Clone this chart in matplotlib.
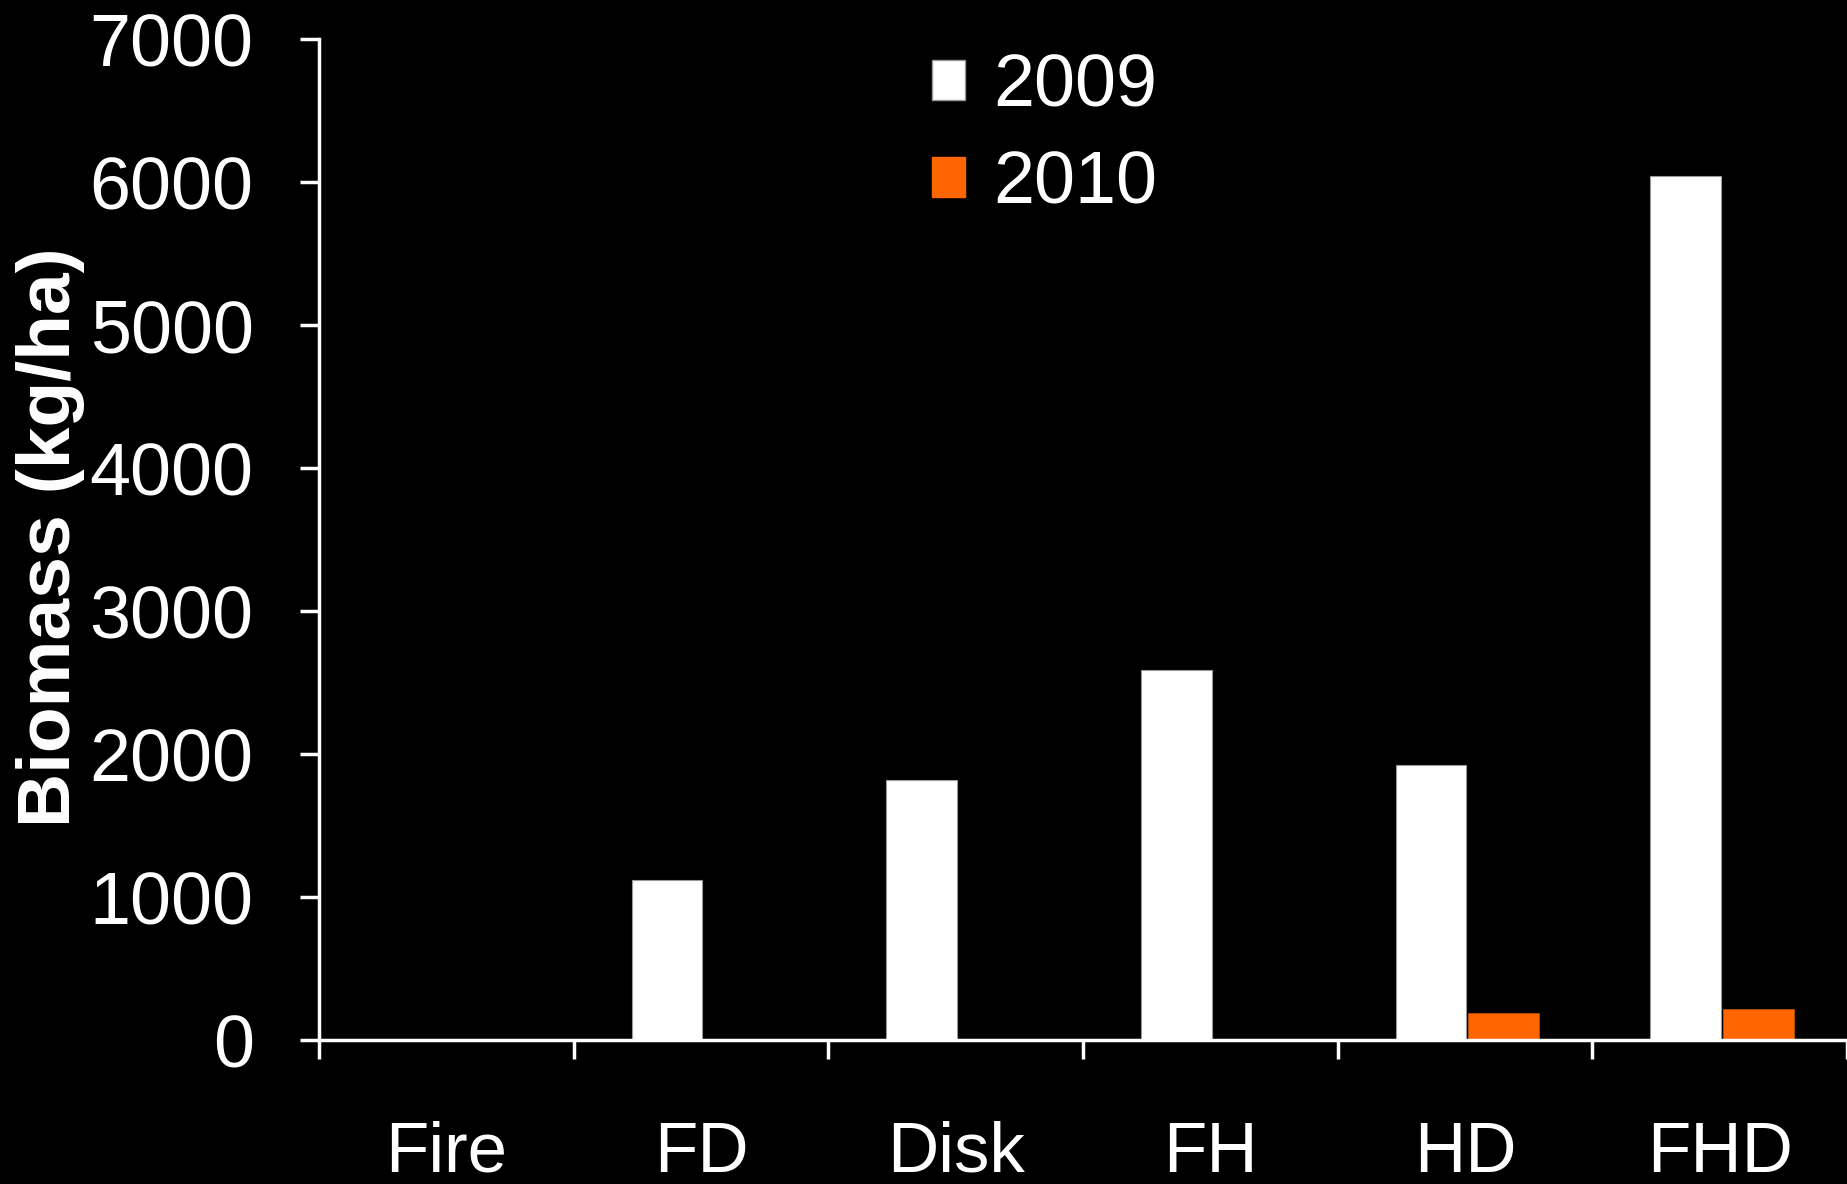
import matplotlib
matplotlib.use('Agg')
import matplotlib.pyplot as plt
from matplotlib.patches import Patch
import numpy as np

categories = ['Fire', 'FD', 'Disk', 'FH', 'HD', 'FHD']
biomass_2009 = [0, 1120, 1820, 2590, 1920, 6040]
biomass_2010 = [0, 0, 0, 0, 190, 220]
yticks = [0, 1000, 2000, 3000, 4000, 5000, 6000, 7000]

white = '#FFFFFF'
orange = '#FF6600'
fg = 'white'

plt.rcParams['font.family'] = ['Liberation Sans', 'DejaVu Sans']

fig = plt.figure(figsize=(18.47, 11.84), dpi=100, facecolor='black')
ax = fig.add_axes([0.1727, 0.1216, 0.8273, 0.8454])
ax.set_facecolor('black')

x = np.arange(len(categories))
w = 0.277
ax.bar(x - w / 2 + 0.005, biomass_2009, width=w, color=white, edgecolor='#999999', linewidth=0.8)
ax.bar(x + w / 2 + 0.013, biomass_2010, width=w, color=orange, edgecolor='#cc5200', linewidth=0.5)

ax.set_xlim(-0.5, 5.47)
ax.set_ylim(0, 7000)

for s in ['top', 'right']:
    ax.spines[s].set_visible(False)
for s in ['left', 'bottom']:
    ax.spines[s].set_color(fg)
    ax.spines[s].set_linewidth(2.5)

ax.set_yticks(yticks)
ax.set_yticklabels([str(v) for v in yticks])
ax.tick_params(axis='y', colors=fg, labelsize=53, length=14, width=2.5, pad=33, direction='out')

# boundaries as major ticks, names centred on minor ticks
ax.set_xticks(np.arange(-0.5, 6.0, 1.0))
ax.set_xticklabels([])
ax.set_xticks(x, minor=True)
ax.set_xticklabels(categories, minor=True)
ax.tick_params(axis='x', which='major', colors=fg, length=14, width=2.5, direction='out')
ax.tick_params(axis='x', which='minor', colors=fg, length=0, labelsize=51, pad=58)

ax.set_ylabel('Biomass (kg/ha)', color=fg, fontsize=54, fontweight='bold')
ax.yaxis.set_label_coords(-0.153, 0.502)

handles = [Patch(facecolor=white, edgecolor='#999999'), Patch(facecolor=orange, edgecolor=orange)]
leg = ax.legend(handles, ['2009', '2010'], loc='upper left', bbox_to_anchor=(0.358, 1.053),
                frameon=False, fontsize=53, handlelength=0.45, handleheight=0.45,
                handletextpad=0.38, labelspacing=0.38)
for t in leg.get_texts():
    t.set_color(fg)

fig.savefig('out.png', dpi=100, facecolor='black')
